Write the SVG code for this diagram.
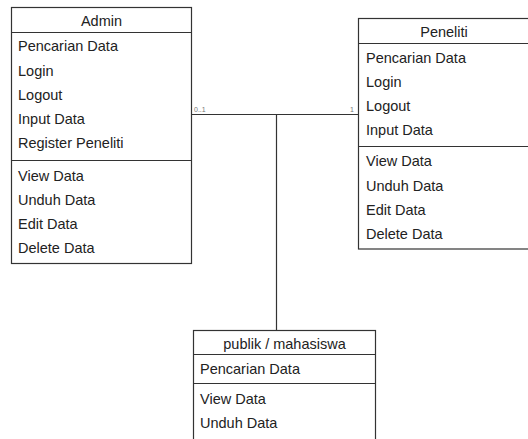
<svg xmlns="http://www.w3.org/2000/svg" width="528" height="439" viewBox="0 0 528 439">
<style>
.box{fill:#fff;stroke:#333;stroke-width:1.2}
.ln{stroke:#333;stroke-width:1.2;fill:none}
.t{font-family:"Liberation Sans",Arial,sans-serif;font-size:14.5px;fill:#222}
.c{text-anchor:middle}
.lbl{font-family:"Liberation Sans",Arial,sans-serif;font-size:7px;fill:#777}
</style>
<rect width="528" height="439" fill="#fff"/>
<g id="connectors">
<path class="ln" d="M192 114.5H358M276.5 114.5V330"/>
<text class="lbl" x="194" y="112">0..1</text>
<text class="lbl" x="350" y="112">1</text>
</g>
<g id="admin">
<rect class="box" x="11.5" y="7.5" width="180" height="256"/>
<path class="ln" d="M11.5 32.5H191.5M11.5 160.5H191.5"/>
<text class="t c" x="101.5" y="26">Admin</text>
<text class="t" x="18" y="51">Pencarian Data</text>
<text class="t" x="18" y="75.5">Login</text>
<text class="t" x="18" y="100">Logout</text>
<text class="t" x="18" y="124">Input Data</text>
<text class="t" x="18" y="148">Register Peneliti</text>
<text class="t" x="18" y="180.5">View Data</text>
<text class="t" x="18" y="204.5">Unduh Data</text>
<text class="t" x="18" y="228.5">Edit Data</text>
<text class="t" x="18" y="252.5">Delete Data</text>
</g>
<g id="peneliti">
<rect class="box" x="358.5" y="18.5" width="172" height="230.5"/>
<path class="ln" d="M358.5 43.5H530M358.5 146.5H530"/>
<text class="t c" x="444" y="37">Peneliti</text>
<text class="t" x="366" y="62.5">Pencarian Data</text>
<text class="t" x="366" y="86.5">Login</text>
<text class="t" x="366" y="110.5">Logout</text>
<text class="t" x="366" y="134.5">Input Data</text>
<text class="t" x="366" y="166">View Data</text>
<text class="t" x="366" y="190.5">Unduh Data</text>
<text class="t" x="366" y="215">Edit Data</text>
<text class="t" x="366" y="239">Delete Data</text>
</g>
<g id="publik">
<rect class="box" x="193.5" y="330.5" width="182" height="120"/>
<path class="ln" d="M193.5 354.5H375.5M193.5 383.5H375.5"/>
<text class="t c" x="284.5" y="349">publik / mahasiswa</text>
<text class="t" x="200" y="373.5">Pencarian Data</text>
<text class="t" x="200" y="404">View Data</text>
<text class="t" x="200" y="428">Unduh Data</text>
</g>
</svg>
